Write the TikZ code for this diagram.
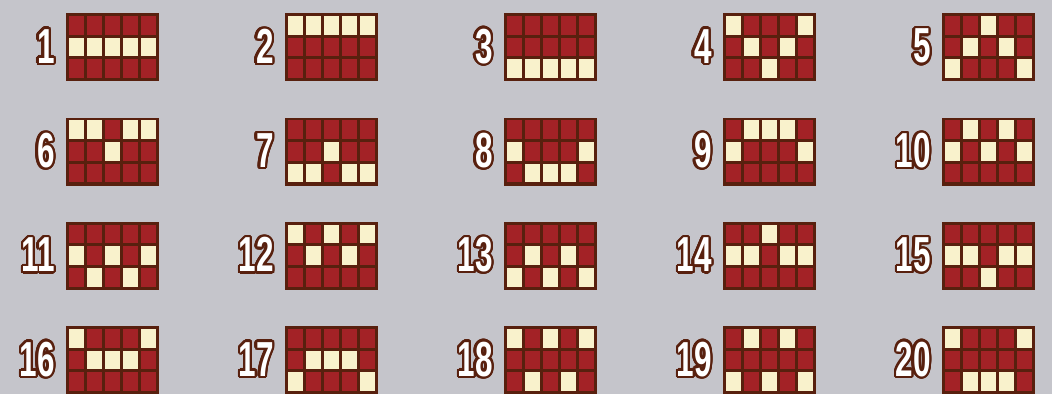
\documentclass[tikz,border=0pt]{standalone}
\usepackage{fontspec}
\usepackage{contour}
\newfontfamily\numfont[FakeStretch=0.64]{Liberation Sans}
\contourlength{1.3pt}
\contournumber{24}
\definecolor{bgrey}{RGB}{197,197,203}
\definecolor{linebrown}{RGB}{88,32,14}
\definecolor{cellred}{RGB}{163,34,38}
\definecolor{cellon}{RGB}{249,242,204}

\begin{document}
\begin{tikzpicture}[
    x=0.02cm, y=-0.02cm,
    paygrid/.style={rectangle, fill=linebrown, inner sep=0pt, minimum width=1.86cm, minimum height=1.36cm},
    paynum/.style={text=white, inner sep=0pt, font=\fontsize{28}{28}\selectfont\bfseries\numfont},
    cell/.style={fill=cellred},
    celllit/.style={fill=cellon}
]

% Background
\fill[bgrey] (0,0) rectangle (1052,394);
\useasboundingbox (0,0) rectangle (1052,394);

% Paylines: number / row lit in each of the five reels
\foreach \i/\pa/\pb/\pc/\pd/\pe in {
    1/2/2/2/2/2, 2/1/1/1/1/1, 3/3/3/3/3/3, 4/1/2/3/2/1, 5/3/2/1/2/3,
    6/1/1/2/1/1, 7/3/3/2/3/3, 8/2/3/3/3/2, 9/2/1/1/1/2, 10/2/1/2/1/2,
    11/2/3/2/3/2, 12/1/2/1/2/1, 13/3/2/3/2/3, 14/2/2/1/2/2, 15/2/2/3/2/2,
    16/1/2/2/2/1, 17/3/2/2/2/3, 18/1/3/1/3/1, 19/3/1/3/1/3, 20/1/3/3/3/1}{
  \pgfmathtruncatemacro\col{mod(\i-1,5)}
  \pgfmathtruncatemacro\row{(\i-1)/5}
  \pgfmathsetmacro\gx{66+219*\col}
  \pgfmathsetmacro\gy{13+104.3*\row}
  \node[paygrid, anchor=north west] (g\i) at (\gx,\gy) {};
  \foreach \k/\lit in {1/\pa, 2/\pb, 3/\pc, 4/\pd, 5/\pe}{
    \foreach \r in {1,2,3}{
      \ifnum\r=\lit
        \fill[celllit] (\gx+3+18*\k-18,\gy+3+21.67*\r-21.67) rectangle ++(15,18.67);
      \else
        \fill[cell] (\gx+3+18*\k-18,\gy+3+21.67*\r-21.67) rectangle ++(15,18.67);
      \fi
    }
  }
  \node[paynum, anchor=east] (n\i) at ([xshift=-0.22cm]g\i.west) {\contour{linebrown}{\i}};
}

\end{tikzpicture}
\end{document}
